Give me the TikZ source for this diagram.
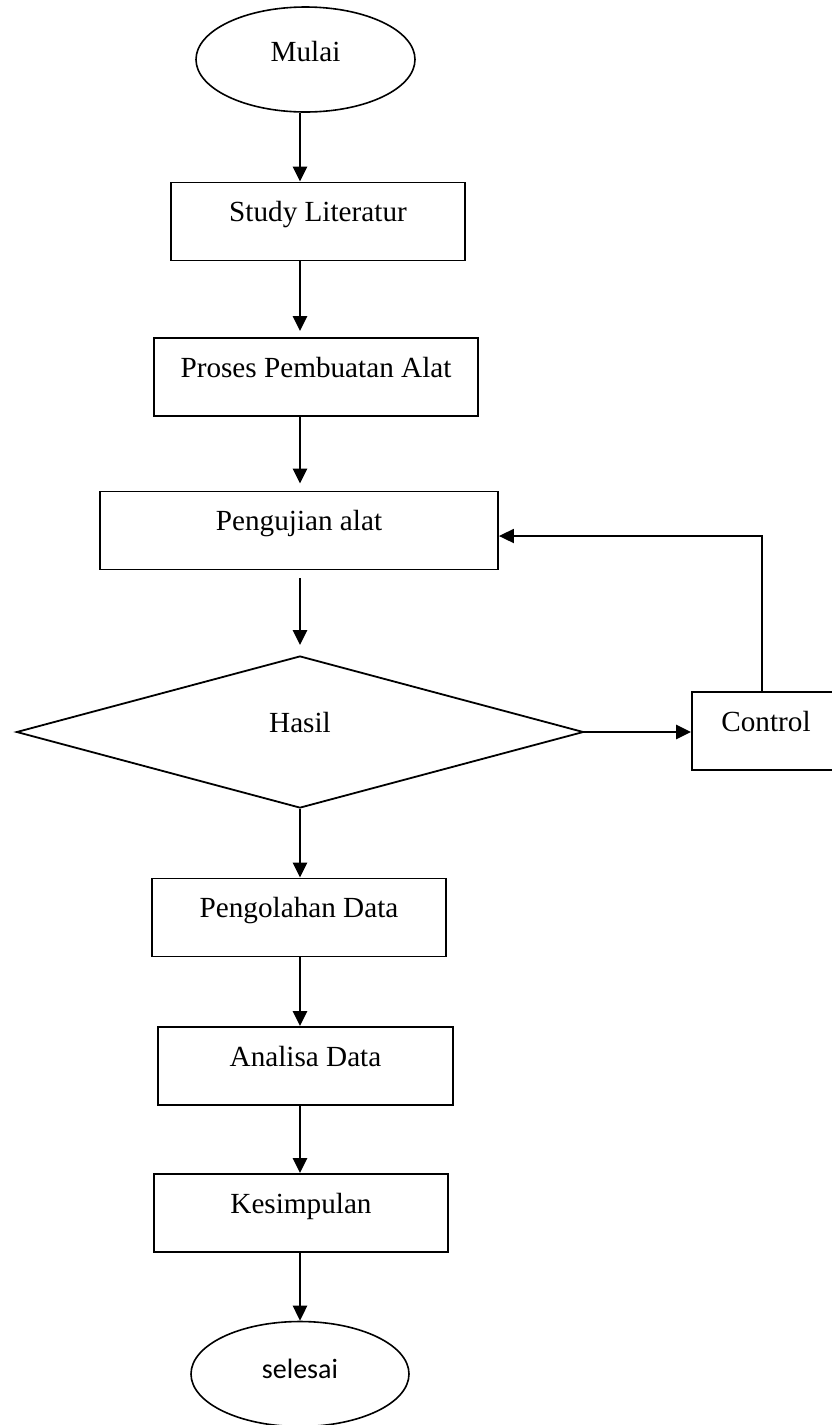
\documentclass[tikz,border=0pt]{standalone}
\usepackage{fontspec}
\setmainfont{Liberation Serif}
\newfontfamily\calibri{Carlito}
\usetikzlibrary{shapes.geometric,arrows.meta}

\begin{document}
\begin{tikzpicture}
[x=0.5pt,y=-0.5pt,
 every node/.style={draw,line width=0.9pt,inner sep=0pt,font=\fontsize{14.6pt}{17pt}\selectfont,text height=9.5pt,text depth=9.5pt},
 proc/.style={rectangle,minimum height=39pt},
 term/.style={ellipse,minimum width=109.5pt,minimum height=52.5pt,line width=0.8pt},
 flow/.style={line width=1.3pt,-{Triangle[length=7.5pt,width=7pt]}}]
\useasboundingbox (0,0) rectangle (831,1425);
\coordinate (ax) at (300,0);
\node[term,text depth=7.5pt] (mulai) at (305.5,59.5) {Mulai};
\node[proc,minimum width=147pt] (lit) at (318,221.5) {Study Literatur};
\node[proc,minimum width=162pt] (proses) at (316,377) {Proses Pembuatan Alat};
\node[proc,minimum width=199pt] (uji) at (299,530.5) {Pengujian alat};
\node[diamond,minimum width=283.5pt,minimum height=76pt] (hasil) at (300,732) {Hasil};
\node[proc,minimum width=74pt] (ctrl) at (766,731) {Control};
\node[proc,minimum width=147pt] (olah) at (299,917.5) {Pengolahan Data};
\node[proc,minimum width=147.5pt] (analisa) at (305.5,1066) {Analisa Data};
\node[proc,minimum width=147pt] (simpul) at (301,1213) {Kesimpulan};
\node[term,minimum width=109pt,font=\calibri\fontsize{14pt}{17pt}\selectfont,text depth=5pt] (selesai) at (300,1374) {selesai};
\draw[flow] (mulai.south -| ax) -- (lit.north -| ax);
\draw[flow,shorten >=3pt] (lit.south -| ax) -- (proses.north -| ax);
\draw[flow,shorten >=3.5pt] (proses.south -| ax) -- (uji.north -| ax);
\draw[flow,shorten <=4pt,shorten >=5pt] (uji.south -| ax) -- (hasil.north);
\draw[flow] (hasil.east) -- (hasil.east -| ctrl.west);
\draw[line width=0.9pt,-{Triangle[length=7.5pt,width=7pt]}] ([xshift=-2pt]ctrl.north) |- ([yshift=-2.75pt]uji.east);
\draw[flow] (hasil.south) -- (olah.north -| ax);
\draw[flow] (olah.south -| ax) -- (analisa.north -| ax);
\draw[flow] (analisa.south -| ax) -- (simpul.north -| ax);
\draw[flow] (simpul.south -| ax) -- (selesai.north);
\end{tikzpicture}
\end{document}
